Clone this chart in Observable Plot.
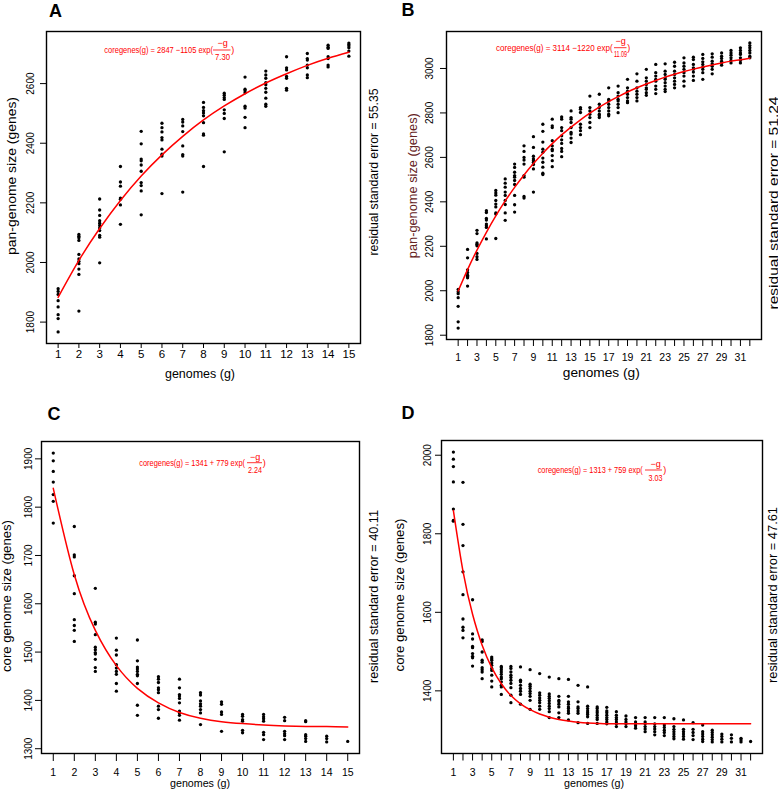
<!DOCTYPE html>
<html><head><meta charset="utf-8">
<script src="https://cdn.jsdelivr.net/npm/d3@7"></script>
<script src="https://cdn.jsdelivr.net/npm/@observablehq/plot@0.6"></script>
<style>
body{margin:0;background:#fff;}
#wrap{position:relative;width:778px;height:791px;overflow:hidden;background:#fff;}
#wrap > svg{position:absolute;}
</style></head><body><div id="wrap"></div>
<script>
const FONT = '"Liberation Sans", Arial, Helvetica, sans-serif';

// ---------- Panel A: pan-genome, 15 genomes ----------
const panelA_genomes = [1,2,3,4,5,6,7,8,9,10,11,12,13,14,15];
const panelA_values = [
  [1912,1903,1893,1872,1851,1825,1812,1767],
  [2094,2088,2083,2074,2027,2012,2004,1996,1978,1960,1837],
  [2213,2176,2158,2140,2132,2124,2116,2107,2091,2085,1999],
  [2322,2270,2256,2216,2212,2193,2128],
  [2440,2398,2347,2341,2327,2306,2268,2258,2240,2160],
  [2467,2452,2438,2419,2411,2380,2363,2357,2231],
  [2480,2471,2458,2439,2391,2362,2357,2236],
  [2537,2520,2509,2501,2492,2469,2431,2427,2322],
  [2568,2561,2553,2547,2512,2500,2483,2371],
  [2622,2581,2576,2569,2524,2518,2487,2452],
  [2642,2629,2618,2603,2596,2584,2571,2551,2531,2524],
  [2690,2653,2646,2624,2618,2584,2578],
  [2701,2684,2679,2662,2653,2629,2620],
  [2729,2722,2718,2690,2684,2662,2656],
  [2736,2731,2726,2720,2709,2692]
];
const panelA_fit = [1883,2007,2114,2208,2290,2361,2423,2478,2525,2566,2602,2633,2661,2685,2705];
const panelA_yTicks = [1800,2000,2200,2400,2600];
const panelA_xTicks = [1,2,3,4,5,6,7,8,9,10,11,12,13,14,15];

// ---------- Panel B: pan-genome, 32 genomes ----------
const panelB_genomes = [1,2,3,4,5,6,7,8,9,10,11,12,13,14,15,16,17,18,19,20,21,22,23,24,25,26,27,28,29,30,31,32];
const panelB_values = [
  [2006,1995,1987,1969,1930,1860,1832],
  [2186,2148,2094,2082,2070,2064,2058,2021],
  [2272,2257,2215,2209,2202,2168,2153,2141],
  [2360,2352,2325,2318,2300,2292,2285,2233],
  [2451,2440,2430,2406,2390,2377,2350,2345,2235],
  [2503,2484,2466,2444,2429,2406,2388,2350,2317],
  [2570,2555,2533,2518,2511,2496,2478,2429,2387,2354],
  [2652,2627,2600,2588,2570,2518,2511,2424,2417],
  [2693,2645,2605,2593,2585,2578,2568,2548,2444],
  [2749,2717,2669,2637,2623,2597,2578,2556,2529,2523],
  [2772,2742,2734,2675,2652,2637,2630,2608,2585,2558],
  [2782,2772,2734,2720,2697,2679,2663,2640,2627,2603],
  [2809,2779,2772,2757,2734,2712,2705,2687,2667],
  [2824,2817,2802,2749,2734,2720,2702],
  [2876,2824,2809,2794,2779,2757,2734],
  [2884,2839,2824,2809,2794,2787,2779],
  [2913,2861,2854,2839,2824,2809,2794,2787],
  [2921,2891,2876,2861,2854,2839,2824,2801],
  [2951,2913,2898,2884,2869,2854,2846],
  [2976,2943,2913,2898,2884,2869,2854],
  [2996,2958,2943,2928,2913,2906,2891,2879],
  [3018,2981,2966,2951,2943,2921,2906,2887],
  [3021,2988,2973,2958,2951,2936,2921,2906,2896],
  [3028,3010,2988,2973,2958,2943,2928,2913],
  [3048,3025,3010,2996,2981,2966,2943,2921],
  [3051,3040,3018,3003,2996,2984,2966,2946],
  [3063,3045,3030,3018,3006,2996,2981,2951],
  [3066,3051,3033,3021,3010,2996,2976],
  [3070,3055,3045,3033,3025,3015],
  [3081,3070,3060,3048,3036,3025],
  [3093,3081,3070,3063,3048,3036,3025],
  [3115,3103,3093,3081,3070,3055,3048]
];
const panelB_fit = [1999,2095,2183,2263,2337,2404,2465,2521,2572,2619,2662,2701,2736,2769,2799,2826,2851,2873,2894,2913,2930,2946,2961,2974,2986,2997,3007,3016,3025,3033,3039,3046];
const panelB_yTicks = [1800,2000,2200,2400,2600,2800,3000];
const panelB_xTicks = [1,2,3,4,5,6,7,8,9,10,11,12,13,14,15,16,17,18,19,20,21,22,23,24,25,26,27,28,29,30,31,32];
const panelB_xLabels = [1,3,5,7,9,11,13,15,17,19,21,23,25,27,29,31];

// ---------- Panel C: core genome, 15 genomes ----------
const panelC_genomes = [1,2,3,4,5,6,7,8,9,10,11,12,13,14,15];
const panelC_values = [
  [1912,1896,1874,1852,1826,1812,1767],
  [1760,1701,1697,1658,1621,1567,1555,1545,1522],
  [1632,1562,1558,1536,1510,1505,1499,1496,1485,1468,1460],
  [1529,1504,1494,1474,1467,1460,1454,1435,1419],
  [1525,1482,1469,1465,1460,1454,1451,1435,1390,1369],
  [1449,1444,1437,1426,1422,1416,1388,1381,1363],
  [1444,1426,1412,1409,1404,1395,1378,1374,1369,1359],
  [1416,1411,1399,1393,1388,1381,1374,1350],
  [1397,1392,1376,1371,1336],
  [1371,1367,1360,1357,1338,1333],
  [1371,1366,1362,1357,1334,1329,1319],
  [1365,1358,1336,1331,1327,1319],
  [1358,1356,1329,1326,1321,1315],
  [1326,1321,1314],
  [1315]
];
const panelC_fit = [1839,1660,1545,1472,1425,1395,1375,1363,1356,1352,1349,1347,1346,1346,1345];
const panelC_yTicks = [1300,1400,1500,1600,1700,1800,1900];
const panelC_xTicks = [1,2,3,4,5,6,7,8,9,10,11,12,13,14,15];

// ---------- Panel D: core genome, 32 genomes ----------
const panelD_genomes = [1,2,3,4,5,6,7,8,9,10,11,12,13,14,15,16,17,18,19,20,21,22,23,24,25,26,27,28,29,30,31,32];
const panelD_values = [
  [2008,1990,1971,1932,1863,1834,1832],
  [1931,1824,1770,1703,1645,1583,1562,1554,1535],
  [1632,1545,1532,1513,1510,1495,1488,1484,1463],
  [1530,1526,1499,1478,1473,1459,1454,1448,1431],
  [1486,1482,1478,1471,1465,1457,1452,1440,1425,1410],
  [1462,1459,1454,1448,1442,1435,1431,1423,1414,1410,1391],
  [1462,1457,1448,1440,1434,1427,1419,1408,1389,1370],
  [1461,1427,1423,1414,1406,1399,1391,1366],
  [1454,1417,1412,1406,1399,1393,1386,1376,1353],
  [1444,1395,1389,1382,1376,1370,1361,1353],
  [1435,1392,1386,1381,1375,1368,1361,1355,1347,1332],
  [1431,1386,1376,1372,1366,1359,1344,1332],
  [1429,1386,1372,1366,1359,1355,1349,1343,1326],
  [1414,1372,1359,1355,1349,1343,1319],
  [1410,1361,1355,1349,1344,1340,1334,1317],
  [1359,1355,1349,1344,1338,1332,1327,1317],
  [1358,1349,1344,1338,1332,1327,1321,1316],
  [1347,1338,1332,1327,1321,1316,1309],
  [1336,1327,1321,1316,1309],
  [1332,1321,1316,1311,1305],
  [1332,1321,1316,1309,1303,1296],
  [1332,1316,1309,1303,1296,1288],
  [1332,1313,1307,1300,1294,1286],
  [1329,1309,1302,1296,1290,1284,1278],
  [1326,1302,1296,1290,1284,1277],
  [1319,1302,1294,1286,1276],
  [1313,1296,1290,1284,1277,1271],
  [1300,1294,1288,1282,1276,1270],
  [1290,1284,1277,1270],
  [1288,1279,1270],
  [1279,1275,1270],
  [1271]
];
const panelD_fit = [1859,1705,1595,1516,1459,1418,1388,1367,1352,1341,1333,1327,1323,1320,1318,1317,1316,1316,1316,1316,1316,1316,1316,1316,1316,1316,1316,1316,1316,1316,1316,1316];
const panelD_yTicks = [1400,1600,1800,2000];
const panelD_xTicks = panelB_xTicks;
const panelD_xLabels = panelB_xLabels;

// ---------- text content ----------
const panelLetters = ["A","B","C","D"];
const yTitles = ["pan-genome size (genes)","pan-genome size (genes)","core genome size (genes)","core genome size (genes)"];
const xTitle = "genomes (g)";
const residualTexts = ["residual standard error = 55.35","residual standard error = 51.24","residual standard error = 40.11","residual standard error = 47.61"];
const eqMain = ["coregenes(g) = 2847 \u22121105 exp(","coregenes(g) = 3114 \u22121220 exp(","coregenes(g) = 1341 + 779 exp(","coregenes(g) = 1313 + 759 exp("];
const eqDen = ["7.30","11.09","2.24","3.03"];

// ---------- layout ----------
const panels = [
  {genomes: panelA_genomes, values: panelA_values, fit: panelA_fit, yTicks: panelA_yTicks, xTicks: panelA_xTicks, xLabels: panelA_xTicks,
   left: 0, top: 0, w: 389, h: 395, mL: 46, mR: 29, mT: 31, mB: 52, xTS: 5, xTP: 1, xFS: 11.5, yTP: 6.5},
  {genomes: panelB_genomes, values: panelB_values, fit: panelB_fit, yTicks: panelB_yTicks, xTicks: panelB_xTicks, xLabels: panelB_xLabels,
   left: 389, top: 0, w: 389, h: 395, mL: 57, mR: 17, mT: 31, mB: 56, xTS: 7, xTP: 7, xFS: 10.5, yTP: 7.5},
  {genomes: panelC_genomes, values: panelC_values, fit: panelC_fit, yTicks: panelC_yTicks, xTicks: panelC_xTicks, xLabels: panelC_xTicks,
   left: 0, top: 395, w: 389, h: 396, mL: 41, mR: 30, mT: 46, mB: 38, xTS: 8, xTP: 7, xFS: 10.5, yTP: 3.5},
  {genomes: panelD_genomes, values: panelD_values, fit: panelD_fit, yTicks: panelD_yTicks, xTicks: panelD_xTicks, xLabels: panelD_xLabels,
   left: 389, top: 395, w: 389, h: 396, mL: 52, mR: 16, mT: 45, mB: 38, xTS: 7.5, xTP: 8, xFS: 10.5, yTP: 5}
];

const pad4 = ([a, b]) => [a - 0.04 * (b - a), b + 0.04 * (b - a)];
const wrap = document.getElementById("wrap");

for (const p of panels) {
  const pts = [];
  p.genomes.forEach((g, i) => p.values[i].forEach(v => pts.push({g, v})));
  const fit = p.genomes.map((g, i) => ({g, v: p.fit[i]}));
  const labelSet = new Set(p.xLabels);
  const chart = Plot.plot({
    width: p.w, height: p.h,
    marginLeft: p.mL, marginRight: p.mR, marginTop: p.mT, marginBottom: p.mB,
    x: {domain: pad4(d3.extent(p.genomes))},
    y: {domain: pad4(d3.extent(pts, d => d.v))},
    style: {fontFamily: FONT, color: "black", background: "white", overflow: "visible"},
    marks: [
      Plot.axisX({ticks: p.xTicks, tickSize: p.xTS, tickPadding: p.xTP, fontSize: p.xFS, label: null,
                  tickFormat: d => labelSet.has(d) ? String(d) : ""}),
      Plot.axisY({ticks: p.yTicks, tickSize: 6, tickPadding: p.yTP, tickRotate: -90, fontSize: 10, label: null,
                  tickFormat: d => String(d)}),
      Plot.frame({stroke: "black", strokeWidth: 1.4}),
      Plot.dot(pts, {x: "g", y: "v", r: 1.65, fill: "black", stroke: null}),
      Plot.line(fit, {x: "g", y: "v", stroke: "#ff0000", strokeWidth: 1.5, curve: "natural"})
    ]
  });
  chart.style.left = p.left + "px";
  chart.style.top = p.top + "px";
  wrap.appendChild(chart);
}

// ---------- annotation overlay ----------
const ov = d3.select(wrap).append("svg")
  .attr("width", 778).attr("height", 791)
  .style("left", "0px").style("top", "0px")
  .attr("font-family", FONT);

function txt(x, y, s, o = {}) {
  const t = ov.append("text")
    .attr("transform", `translate(${x},${y})` + (o.rotate ? ` rotate(${o.rotate})` : ""))
    .attr("text-anchor", o.anchor || "middle")
    .attr("font-size", o.size || 12)
    .attr("fill", o.fill || "black")
    .text(s);
  if (o.weight) t.attr("font-weight", o.weight);
  if (o.len) t.attr("textLength", o.len).attr("lengthAdjust", "spacingAndGlyphs");
  return t;
}

// panel letters
const letterPos = [[49,17],[401.5,16],[47.5,420],[401.5,419]];
panelLetters.forEach((s, i) => txt(letterPos[i][0], letterPos[i][1], s, {anchor: "start", size: 18, weight: "bold"}));

// y titles
const yTitlePos = [[16,176,13.5,158],[416.5,185.7,13,145],[10.5,596,13,152],[404,595,13,153]];
yTitles.forEach((s, i) => {
  const [x, y, fs, len] = yTitlePos[i];
  txt(x, y, s, {rotate: -90, size: fs, len, fill: i === 1 ? "#642222" : "black"});
});

// x titles
const xTitlePos = [[200,378,12.5,70],[601.3,377,13.5,77],[200,787,11,60],[594,787,11,60]];
xTitlePos.forEach(([x, y, fs, len]) => txt(x, y, xTitle, {size: fs, len}));

// residual standard error (right side)
const resPos = [[378,172,12.5,167],[777.5,203,13.5,213],[378,596.5,12.5,173],[777,595,12.5,176]];
residualTexts.forEach((s, i) => {
  const [x, y, fs, len] = resPos[i];
  txt(x, y, s, {rotate: -90, size: fs, len});
});

// fitted equations
const eqPos = [
  {x0: 104.3, base: 53.3, w: 108.7, cx: 222.5, nb: 45.5, b0: 213, b1: 230.5, by: 50, db: 59.5, dl: 15, px: 231.3},
  {x0: 496, base: 51, w: 116.7, cx: 620.5, nb: 44, b0: 614, b1: 626.5, by: 47.7, db: 57, dl: 13, px: 627.2},
  {x0: 139.3, base: 466, w: 105.7, cx: 255, nb: 459.5, b0: 247, b1: 262, by: 462.7, db: 473.3, dl: 14, px: 262.8},
  {x0: 537.7, base: 473, w: 105, cx: 655.5, nb: 466.5, b0: 645, b1: 662, by: 470, db: 480.7, dl: 14, px: 663.2}
];
const RED = "#ff0000";
eqPos.forEach((e, i) => {
  txt(e.x0, e.base, eqMain[i], {anchor: "start", size: 9, len: e.w, fill: RED});
  txt(e.cx, e.nb, "\u2212g", {size: 9, fill: RED});
  ov.append("line").attr("x1", e.b0).attr("x2", e.b1).attr("y1", e.by).attr("y2", e.by)
    .attr("stroke", RED).attr("stroke-width", 0.8);
  txt(e.cx, e.db, eqDen[i], {size: 9, len: e.dl, fill: RED});
  txt(e.px, e.base, ")", {anchor: "start", size: 9, fill: RED});
});
</script>
</body></html>
